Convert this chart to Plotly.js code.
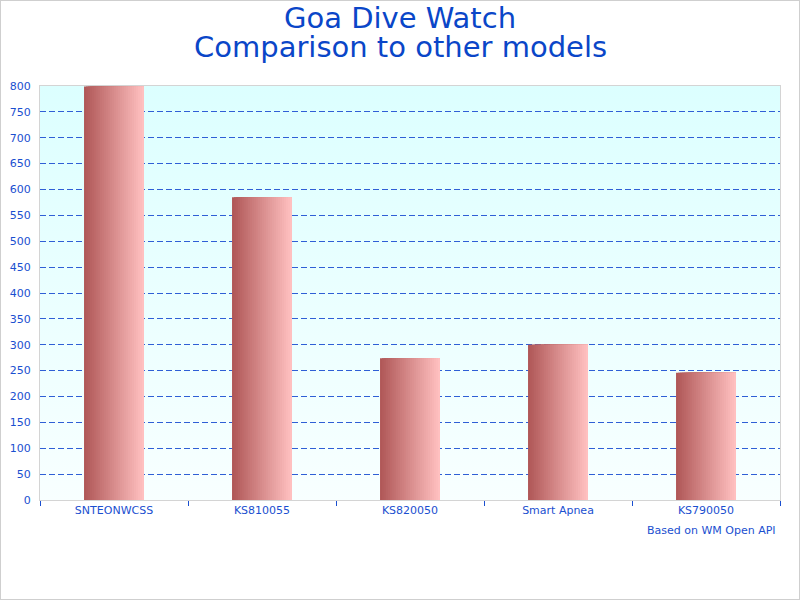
<!DOCTYPE html>
<html>
<head>
<meta charset="utf-8">
<script src="https://cdn.plot.ly/plotly-3.0.1.min.js"></script>
<style>
  html, body { margin: 0; padding: 0; background: #ffffff; }
  #chart { width: 798px; height: 598px; border: 1px solid #cfcfcf; }
</style>
</head>
<body>
<div id="chart"></div>
<script>
const categories = ["SNTEONWCSS", "KS810055", "KS820050", "Smart Apnea", "KS790050"];
const values = [799, 585, 274, 300, 246];
const titleLines = ["Goa Dive Watch", "Comparison to other models"];
const footnote = "Based on WM Open API";

const blue = "#0a46c8";
const tickBlue = "#1a4fd0";
const barWidth = 0.405;
const slices = 30;
const leftColor = [176, 88, 88];
const rightColor = [255, 192, 192];
const titleFont = { family: "DejaVu Sans, Verdana, sans-serif", size: 29, color: blue };

function mix(t) {
  const c = leftColor.map((l, k) => Math.round(l + (rightColor[k] - l) * t));
  return "rgb(" + c.join(",") + ")";
}

const traces = [];
for (let i = 0; i < slices; i++) {
  const start = -barWidth / 2 + i * barWidth / slices;
  traces.push({
    type: "bar",
    x: categories,
    y: values,
    offset: start,
    width: barWidth - i * barWidth / slices,
    marker: { color: mix(i / (slices - 1)), line: { width: 0 } },
    hoverinfo: "skip",
    showlegend: false
  });
}

const bgSvg = '<svg xmlns="http://www.w3.org/2000/svg" width="100" height="100" preserveAspectRatio="none">' +
  '<defs><linearGradient id="g" x1="0" y1="0" x2="0" y2="1">' +
  '<stop offset="0" stop-color="#dcffff"/><stop offset="1" stop-color="#f8ffff"/>' +
  '</linearGradient></defs><rect width="100" height="100" fill="url(#g)"/></svg>';

const layout = {
  width: 798,
  height: 598,
  margin: { l: 39, r: 19, t: 85, b: 99 },
  paper_bgcolor: "#ffffff",
  plot_bgcolor: "rgba(0,0,0,0)",
  barmode: "overlay",
  font: { family: "DejaVu Sans, Verdana, sans-serif", color: tickBlue, size: 11 },
  title: {
    text: titleLines[0],
    font: titleFont,
    x: 0.5,
    xanchor: "center",
    y: 1 - 17 / 598,
    yref: "container",
    yanchor: "middle"
  },
  xaxis: {
    type: "category",
    showline: true,
    linecolor: "#d4d4d4",
    linewidth: 1,
    mirror: true,
    ticks: "outside",
    tickson: "boundaries",
    ticklen: 5,
    tickcolor: tickBlue,
    tickwidth: 1,
    showgrid: false,
    tickfont: { size: 11, color: tickBlue },
    fixedrange: true
  },
  yaxis: {
    range: [0, 800],
    dtick: 50,
    tick0: 0,
    showline: true,
    linecolor: "#d4d4d4",
    linewidth: 1,
    mirror: true,
    ticks: "",
    showgrid: true,
    gridcolor: "#2f5fd6",
    gridwidth: 1,
    griddash: "6px,3px",
    zeroline: false,
    tickfont: { size: 11, color: tickBlue },
    ticklabelstandoff: 6,
    fixedrange: true
  },
  images: [{
    source: "data:image/svg+xml;charset=utf-8," + encodeURIComponent(bgSvg),
    xref: "paper", yref: "paper",
    x: 0, y: 1, sizex: 1, sizey: 1,
    sizing: "stretch",
    xanchor: "left", yanchor: "top",
    layer: "below"
  }],
  annotations: [{
    text: titleLines[1],
    xref: "paper", yref: "paper",
    x: (400 - 40) / 740, y: 1 + (86 - 47) / 414,
    xanchor: "center", yanchor: "middle",
    showarrow: false,
    font: titleFont
  }, {
    text: footnote,
    xref: "paper", yref: "paper",
    x: 0.997, y: -0.073,
    xanchor: "right", yanchor: "middle",
    showarrow: false,
    font: { size: 11, color: tickBlue }
  }]
};

Plotly.newPlot("chart", traces, layout, { displayModeBar: false, staticPlot: true });
</script>
</body>
</html>
